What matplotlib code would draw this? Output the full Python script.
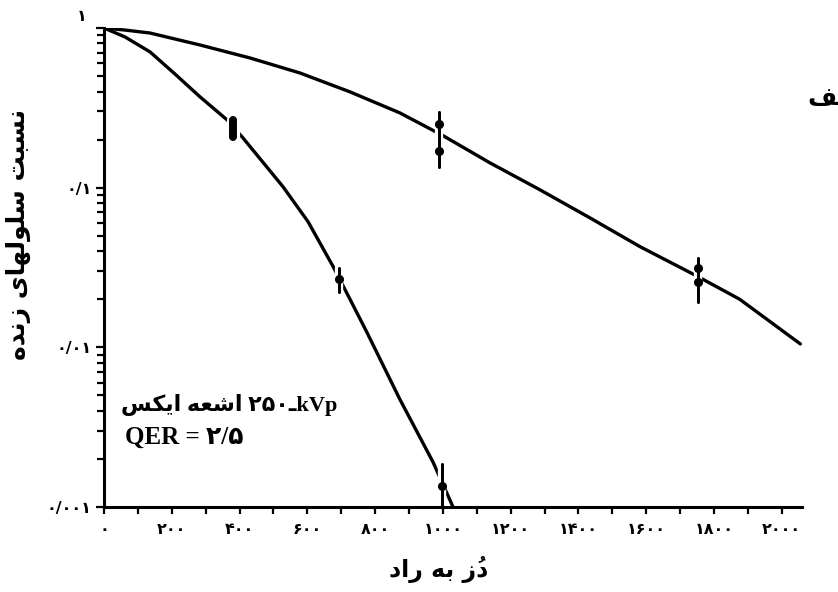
import matplotlib
matplotlib.use("Agg")
from matplotlib import pyplot as plt
from matplotlib import patheffects as pe
from matplotlib.ticker import FixedLocator, LogLocator, NullFormatter
import numpy as np

# Persian strings are stored in visual (left-to-right, pre-shaped) order,
# because matplotlib does no Arabic shaping or bidi reordering itself.
ylabel_txt = ("\uFEE9\uFEAA\uFEE7\uFEAF" + " "
              + "\uFEEF\uFE8E\uFEEC\uFEDF\uFEEE\uFEE0\uFEB3" + " "
              + "\uFE96\uFE92\uFEB4\uFEE7")            # nesbat-e sellulha-ye zende
xlabel_txt = ("\uFEA9\uFE8D\uFEAD" + " "
              + "\uFEEA\uFE91" + " "
              + "\uFEAF\u064F\uFEA9")                  # doz be rad
note_line1 = ("\uFEB2\uFB91\uFEF3\uFE8D" + " "
              + "\uFEEA\uFECC\uFEB7\uFE8D" + " "
              + "\u06F2\u06F5\u06F0\u0640kVp")
note_line2 = "QER = \u06F2/\u06F5"
panel_txt = "\uFED2\uFEDF\uFE8D"                        # alef

# survival curves (dose in rad, surviving fraction)
curve_a_dose = [0, 62, 136, 283, 431, 578, 726, 873, 1000, 1139, 1286, 1434,
                1581, 1749, 1876, 2055]
curve_a_surv = [1.0, 0.971, 0.93, 0.783, 0.649, 0.523, 0.398, 0.294, 0.212, 0.143,
                0.0971, 0.0647, 0.0428, 0.0280, 0.0200, 0.0105]

curve_b_dose = [0, 62, 136, 209, 283, 363, 410, 528, 602, 676, 726, 776, 873, 971, 1030]
curve_b_surv = [1.0, 0.879, 0.708, 0.516, 0.371, 0.266, 0.205, 0.1015, 0.0613,
                0.0321, 0.0200, 0.0124, 0.00473, 0.00191, 0.001]

# measured points with error bars
pts_a_dose = [990, 990, 1752, 1752]
pts_a_surv = [0.251, 0.170, 0.0312, 0.0255]
bars_a_dose = [990, 1752]
bars_a_lo = [0.135, 0.0191]
bars_a_hi = [0.299, 0.0365]

pts_b_dose = [380, 693, 997]
pts_b_surv = [0.237, 0.0266, 0.00135]
bars_b_lo = [0.209, 0.0221, 0.001]
bars_b_hi = [0.266, 0.0315, 0.00186]

xticks = list(range(0, 2001, 100))
xlabels_major = [0, 200, 400, 600, 800, 1000, 1200, 1400, 1600, 1800, 2000]
yticks = [0.001, 0.01, 0.1, 1.0]
ylabels = ["\u06F0/\u06F0\u06F0\u06F1", "\u06F0/\u06F0\u06F1", "\u06F0/\u06F1", ""]

fa_digits = str.maketrans("0123456789", "\u06F0\u06F1\u06F2\u06F3\u06F4\u06F5\u06F6\u06F7\u06F8\u06F9")


def main():
    fig = plt.figure(figsize=(8.38, 5.92), dpi=100)
    ax = fig.add_axes([0.1241, 0.1436, 0.833, 0.8091])

    halo = [pe.withStroke(linewidth=6, foreground="white")]

    ax.plot(curve_a_dose, curve_a_surv, color="black", lw=2.4, solid_capstyle="round")
    ax.plot(curve_b_dose, curve_b_surv, color="black", lw=2.4, solid_capstyle="round")

    # error bars, drawn with a white halo so the curve breaks around them
    for d, lo, hi in zip(bars_a_dose, bars_a_lo, bars_a_hi):
        ln, = ax.plot([d, d], [lo, hi], color="black", lw=2.0, solid_capstyle="round")
        ln.set_path_effects(halo + [pe.Normal()])
    ax.plot(pts_a_dose, pts_a_surv, "o", color="black", ms=5.5)

    for i, (d, lo, hi) in enumerate(zip(pts_b_dose, bars_b_lo, bars_b_hi)):
        w = 5.5 if i == 0 else 2.0
        ln, = ax.plot([d, d], [lo, hi], color="black", lw=w, solid_capstyle="round")
        ln.set_path_effects([pe.withStroke(linewidth=w + 4, foreground="white"), pe.Normal()])
    ax.plot(pts_b_dose[1:], pts_b_surv[1:], "o", color="black", ms=5.5)

    ax.set_yscale("log")
    ax.set_xlim(0, 2060)
    ax.set_ylim(0.001, 1.0)

    for s in ("top", "right"):
        ax.spines[s].set_visible(False)
    for s in ("left", "bottom"):
        ax.spines[s].set_linewidth(2.2)

    ax.xaxis.set_major_locator(FixedLocator(xticks))
    ax.set_xticklabels([str(v).translate(fa_digits) if v in xlabels_major else "" for v in xticks],
                       fontsize=11.5, fontweight="bold", family="DejaVu Sans")
    ax.tick_params(axis="x", direction="out", length=5, width=1.6, pad=6)

    ax.yaxis.set_major_locator(FixedLocator(yticks))
    ax.set_yticklabels(ylabels, fontsize=11.5, fontweight="bold", family="DejaVu Sans")
    ax.yaxis.set_minor_locator(LogLocator(base=10, subs=np.arange(2, 10)))
    ax.yaxis.set_minor_formatter(NullFormatter())
    ax.tick_params(axis="y", which="major", direction="out", length=6, width=1.6, pad=3)
    ax.tick_params(axis="y", which="minor", direction="out", length=5, width=1.6)

    # the "1" label sits a little above the top of the axis
    ax.annotate("\u06F1", xy=(0, 1.0), xycoords=("axes fraction", "data"),
                xytext=(-16, 8), textcoords="offset points", ha="center", va="center",
                fontsize=11.5, fontweight="bold", family="DejaVu Sans")

    ax.set_ylabel(ylabel_txt, fontsize=18, fontweight="bold", family="DejaVu Sans")
    ax.yaxis.set_label_coords(-0.105, 0.568)
    ax.set_xlabel(xlabel_txt, fontsize=17, fontweight="bold", family="DejaVu Sans")
    ax.xaxis.set_label_coords(0.48, -0.102)

    ax.text(0.025, 0.213, note_line1, transform=ax.transAxes, ha="left", va="center",
            fontsize=16, fontweight="bold", family=["Liberation Serif", "DejaVu Sans"])
    ax.text(0.03, 0.146, note_line2, transform=ax.transAxes, ha="left", va="center",
            fontsize=18, fontweight="bold", family=["Liberation Serif", "DejaVu Sans"])

    fig.text(0.964, 1 - 98 / 592, panel_txt, ha="left", va="center",
             fontsize=18, fontweight="bold", family="DejaVu Sans")

    fig.savefig("out.png", dpi=100)


if __name__ == "__main__":
    main()
